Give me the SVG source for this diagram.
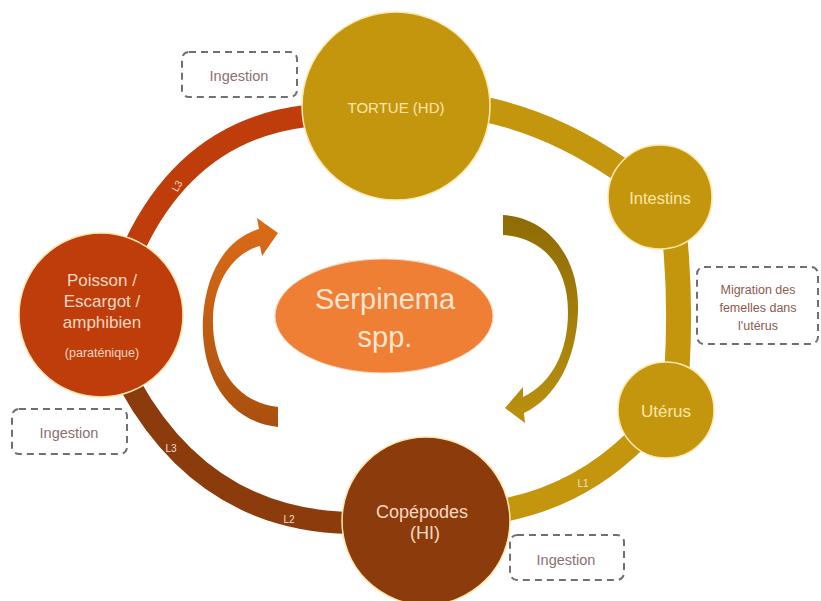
<svg xmlns="http://www.w3.org/2000/svg" width="821" height="601" viewBox="0 0 821 601">
<defs>
<style>
.t{font-family:"Liberation Sans",Arial,sans-serif;text-anchor:middle;dominant-baseline:central}
.node{stroke:#FFE8B0;stroke-width:1.5}
.gold{fill:#C4960E}
.red{fill:#BE3D0B}
.brown{fill:#8B3B0C}
.band{fill:none}
.box{fill:#FFFFFF;stroke:#707070;stroke-width:2;stroke-dasharray:7 5}
.bt{fill:#8A7070;font-size:14.5px}
.lab{fill:#F7DEC4;font-size:10px}
</style>
<linearGradient id="gl" x1="0" y1="0" x2="0" y2="1">
<stop offset="0" stop-color="#DA6C18"/>
<stop offset="1" stop-color="#A94F0E"/>
</linearGradient>
<linearGradient id="gr" x1="0" y1="0" x2="0" y2="1">
<stop offset="0" stop-color="#8E6C05"/>
<stop offset="1" stop-color="#BA9110"/>
</linearGradient>
</defs>
<rect width="821" height="601" fill="#FFFFFF"/>

<g id="connectors">
<path class="band" d="M 306 116 Q 190 130 135 245" stroke="#BE3D0B" stroke-width="22"/>
<path class="band" d="M 130 385 Q 205 520 350 523" stroke="#8B3B0C" stroke-width="22"/>
<path class="band" d="M 488 110 Q 555 125 618 168" stroke="#C4960E" stroke-width="25"/>
<path class="band" d="M 675 240 Q 681 300 677 370" stroke="#C4960E" stroke-width="25"/>
<path class="band" d="M 636 440 Q 580 495 505 510" stroke="#C4960E" stroke-width="23"/>
<text class="t lab" x="177" y="186" transform="rotate(-60 177 186)">L3</text>
<text class="t lab" x="171" y="448">L3</text>
<text class="t lab" x="289" y="519">L2</text>
<text class="t lab" x="583" y="483">L1</text>
</g>

<g id="cycle-arrows">
<path d="M 278 427 C 228 422 200 375 203 318 C 206 270 228 238 259 229 L 257 218 L 278 233 L 262 256 L 260 246 C 235 252 214 280 213 318 C 212 365 235 402 278 407 Z" fill="url(#gl)"/>
<path d="M 503 215 C 552 218 580 262 578 312 C 576 360 556 398 524 413 L 525 423 L 505 408 L 523 387 L 523 397 C 552 383 568 352 568 312 C 568 268 545 238 503 235 Z" fill="url(#gr)"/>
</g>

<g id="tortue">
<circle class="node gold" cx="396" cy="106" r="94"/>
<text class="t" x="396" y="107" fill="#FBE6A6" font-size="15">TORTUE  (HD)</text>
</g>

<g id="intestins">
<circle class="node gold" cx="660" cy="197" r="52"/>
<text class="t" x="660" y="198" fill="#FBE6A6" font-size="16.5">Intestins</text>
</g>

<g id="uterus">
<circle class="node gold" cx="666" cy="410" r="48"/>
<text class="t" x="666" y="411" fill="#FBE6A6" font-size="17">Utérus</text>
</g>

<g id="copepodes">
<circle class="node brown" cx="426" cy="521" r="84"/>
<text class="t" x="422" y="512" fill="#FAD9C2" font-size="18">Copépodes</text>
<text class="t" x="425" y="533" fill="#FAD9C2" font-size="18">(HI)</text>
</g>

<g id="poisson">
<circle class="node red" cx="101" cy="315" r="82"/>
<text class="t" x="102" y="280" fill="#FAD7C0" font-size="17">Poisson /</text>
<text class="t" x="102" y="301" fill="#FAD7C0" font-size="17">Escargot /</text>
<text class="t" x="102" y="322" fill="#FAD7C0" font-size="17">amphibien</text>
<text class="t" x="102" y="353" fill="#FAD7C0" font-size="12.5">(paraténique)</text>
</g>

<g id="serpinema">
<ellipse cx="384" cy="316" rx="109" ry="57" fill="#EF7F34" stroke="#FBD9BF" stroke-width="1"/>
<text class="t" x="385" y="299" fill="#FDE4D0" font-size="29">Serpinema</text>
<text class="t" x="385" y="337" fill="#FDE4D0" font-size="29">spp.</text>
</g>

<g id="ingestion-1">
<rect class="box" x="182" y="52" width="115" height="45" rx="7"/>
<text class="t bt" x="239" y="76">Ingestion</text>
</g>

<g id="ingestion-2">
<rect class="box" x="12" y="409" width="115" height="45" rx="7"/>
<text class="t bt" x="69" y="433">Ingestion</text>
</g>

<g id="ingestion-3">
<rect class="box" x="510" y="535" width="114" height="45" rx="7"/>
<text class="t bt" x="566" y="560">Ingestion</text>
</g>

<g id="migration">
<rect class="box" x="697" y="267" width="121" height="77" rx="7"/>
<text class="t" x="758" y="290" fill="#8B5A50" font-size="12.5">Migration des</text>
<text class="t" x="758" y="308" fill="#8B5A50" font-size="12.5">femelles dans</text>
<text class="t" x="758" y="326" fill="#8B5A50" font-size="12.5">l'utérus</text>
</g>
</svg>
